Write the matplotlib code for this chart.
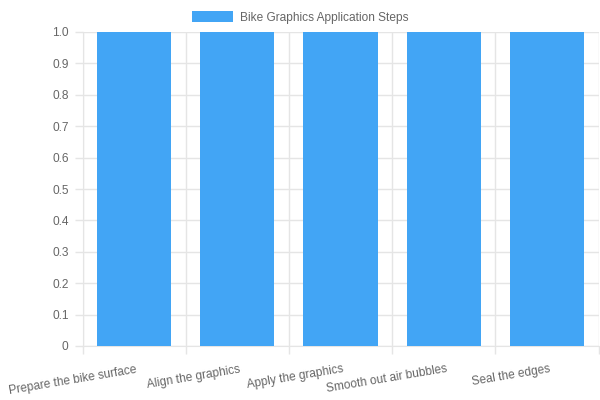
import matplotlib
matplotlib.use('Agg')
import matplotlib.pyplot as plt
import matplotlib.transforms as mtransforms
import numpy as np

# chart data
steps = ['Prepare the bike surface', 'Align the graphics', 'Apply the graphics',
         'Smooth out air bubbles', 'Seal the edges']
values = [1, 1, 1, 1, 1]
y_ticks = [0, 0.1, 0.2, 0.3, 0.4, 0.5, 0.6, 0.7, 0.8, 0.9, 1.0]
y_tick_labels = ['0', '0.1', '0.2', '0.3', '0.4', '0.5', '0.6', '0.7', '0.8', '0.9', '1.0']
series_name = 'Bike Graphics Application Steps'

plt.rcParams['font.family'] = ['Liberation Sans', 'DejaVu Sans']
text_color = '#666666'
grid_color = '#e5e5e5'
bar_color = '#42a5f5'
fsize = 8.6

fig = plt.figure(figsize=(6, 4), dpi=100)
ax = fig.add_axes([82.5 / 600, 1 - 346 / 400, 516 / 600, 314 / 400])

x = np.arange(len(steps))
ax.bar(x, values, width=0.72, color=bar_color, zorder=3, label=series_name)

ax.set_xlim(-0.5, len(steps) - 0.5)
ax.set_ylim(0, 1)
ax.set_yticks(y_ticks)
ax.set_yticklabels(y_tick_labels)
ax.set_xticks(x)
ax.set_xticklabels(steps, rotation=9.5, ha='right', rotation_mode='anchor')

# gridlines at category boundaries
bounds = np.arange(len(steps) + 1) - 0.5
ax.set_xticks(bounds, minor=True)
ax.tick_params(axis='x', which='major', length=0, pad=12.5, labelsize=fsize, labelcolor=text_color)
ax.tick_params(axis='x', which='minor', length=6, color=grid_color, width=1)
ax.tick_params(axis='y', length=6, color=grid_color, width=1, labelsize=fsize,
               labelcolor=text_color, pad=4)
ax.grid(True, axis='y', color=grid_color, linewidth=1, zorder=0)
ax.grid(True, axis='x', which='minor', color=grid_color, linewidth=1, zorder=0)
ax.grid(False, axis='x', which='major')

for side in ['top', 'right']:
    ax.spines[side].set_visible(False)
ax.spines['left'].set_color(grid_color)
ax.spines['bottom'].set_color(grid_color)

# shift labels slightly right of the tick
shift = mtransforms.ScaledTranslation(2 / 100, 0, fig.dpi_scale_trans)
for lbl in ax.get_xticklabels():
    lbl.set_transform(lbl.get_transform() + shift)

leg = fig.legend(loc='upper center', bbox_to_anchor=(0.5, 1.0), frameon=False,
                 handlelength=3.5, handleheight=1.05, fontsize=fsize, labelcolor=text_color,
                 borderaxespad=0.55, handletextpad=0.55)

fig.savefig('out.png', dpi=100)
